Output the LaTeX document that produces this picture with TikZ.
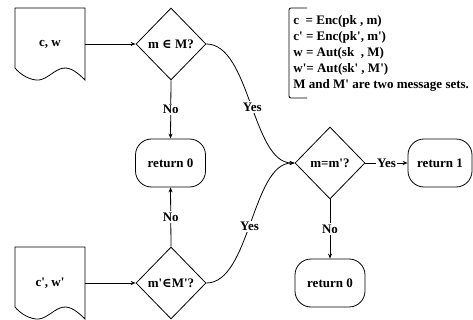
\documentclass[tikz,border=0pt]{standalone}
\usepackage{fontspec}
\setmainfont{Liberation Serif}[Ligatures=TeXOff]
\newfontfamily\symfnt{DejaVu Serif}
\usetikzlibrary{shapes.geometric,arrows.meta,calc}
\begin{document}
\begin{tikzpicture}[x=1pt,y=-1pt,
  font=\fontsize{13}{16}\selectfont\bfseries,
  line width=0.8pt,
  decision/.style={draw,shape=diamond,minimum width=70pt,minimum height=72pt,inner sep=0pt},
  termbox/.style={draw,rounded corners=16pt,minimum width=70pt,minimum height=48pt,inner sep=0pt},
  docbox/.style={minimum width=70pt,minimum height=72pt,inner sep=0pt},
  flow/.style={-{Stealth[length=5pt,width=4pt]}},
  lbl/.style={fill=white,inner sep=1.5pt}]
\useasboundingbox (0,0) rectangle (473,320);
% documents
\node[docbox] (d1) at (50,44) {c, w};
\node[docbox] (d2) at (50,283) {c', w'};
\foreach \d in {d1,d2}{
  \draw ($(\d)+(-35,24)$) -- ($(\d)+(-35,-36)$) -- ($(\d)+(35,-36)$) -- ($(\d)+(35,36)$)
    .. controls ($(\d)+(25,26)$) and ($(\d)+(18,22)$) .. ($(\d)+(10,25)$)
    .. controls ($(\d)+(2,28)$) and ($(\d)+(-5,37)$) .. ($(\d)+(-14,36)$)
    .. controls ($(\d)+(-23,35)$) and ($(\d)+(-31,29)$) .. ($(\d)+(-35,24)$);
}
% decisions
\node[decision] (q1) at (171,44) {m {\symfnt ∈} M?};
\node[decision] (q2) at (171,283) {m'{\symfnt ∈}M'?};
\node[decision] (q3) at (330,163) {m=m'?};
% terminals
\node[termbox] (r0a) at (170.5,163) {return 0};
\node[termbox,minimum width=64pt] (r1) at (440,163) {return 1};
\node[termbox] (r0b) at (330,283) {return 0};
% note
\node[anchor=west,align=left,inner sep=0pt] (note) at (293,53.5) {c\ \ = Enc(pk , m)\\c' = Enc(pk', m')\\w = Aut(sk\ \ , M)\\w'= Aut(sk' , M')\\M and M' are two message sets.};
\draw[rounded corners=2pt] (307,8) -- (289,8) -- (289,98) -- (307,98);
% connectors
\draw[flow] (d1.east) -- (q1.west);
\draw[flow] (d2.east) -- (q2.west);
\draw[flow] (q1.south) -- node[lbl] {No} (r0a.north);
\draw[flow] (q2.north) -- node[lbl] {No} (r0a.south);
\draw[flow] (q1.east) .. controls (250,44) and (252,163) .. node[lbl,pos=0.52] {Yes} (q3.west);
\draw[flow] (q2.east) .. controls (250,283) and (252,163) .. node[lbl,pos=0.48] {Yes} (q3.west);
\draw[flow] (q3.east) -- node[lbl] {Yes} (r1.west);
\draw[flow] (q3.south) -- node[lbl] {No} (r0b.north);
\end{tikzpicture}
\end{document}
